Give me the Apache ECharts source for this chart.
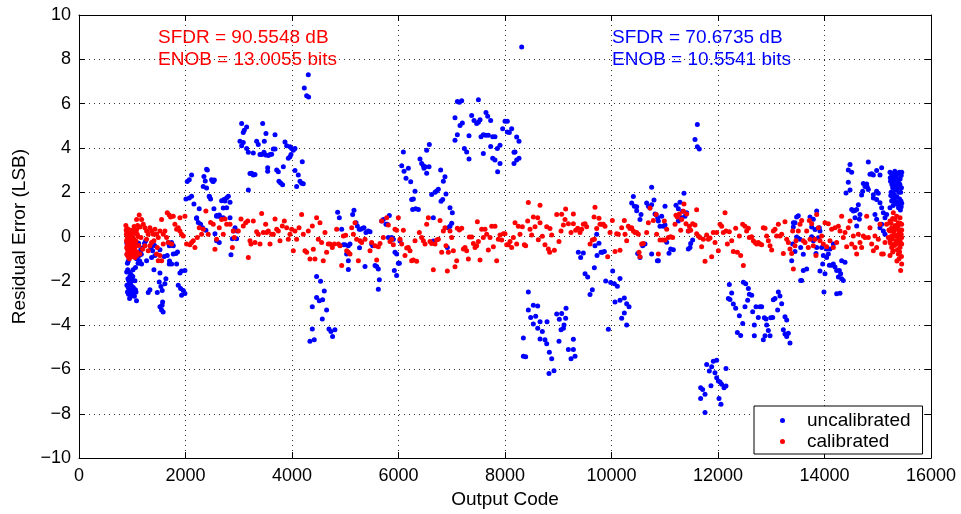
<!DOCTYPE html>
<html>
<head>
<meta charset="utf-8">
<script src="https://cdn.jsdelivr.net/npm/echarts@6/dist/echarts.min.js"></script>
<style>html,body{margin:0;padding:0;background:#fff;}#c{width:961px;height:514px;}</style>
</head>
<body>
<div id="c"></div>
<script>
var xTicks = [0, 2000, 4000, 6000, 8000, 10000, 12000, 14000, 16000];
var yTicks = [-10, -8, -6, -4, -2, 0, 2, 4, 6, 8, 10];
var seriesNames = ['uncalibrated', 'calibrated'];
var annotRed = ['SFDR = 90.5548 dB', 'ENOB = 13.0055 bits'];
var annotBlue = ['SFDR = 70.6735 dB', 'ENOB = 10.5541 bits'];

var uncalibrated = [
[900,-0.3],[905,-0.8],[910,-1.2],[915,-1.5],[920,-1.9],[925,-2.3],[930,-2.6],[935,-2.0],[940,-1.6],[945,-2.4],[950,-2.8],[955,-1.8],[960,-2.1],[965,-2.5],[970,-2.7],[975,-1.7],[980,-2.2],[985,-2.0],[990,-1.9],[995,-2.6],[1000,-2.4],[1010,-1.8],[1020,-2.3],[1030,-2.6],[1040,-2.7],[1050,-2.0],[1060,-2.4],[1070,-2.5],[1080,-2.9],[1000,-0.5],[960,-0.9],[920,-0.6],[1040,-0.7],[1080,-1.0],[1110,-1.2],[1140,-1.1],[1170,-0.8],[1200,-0.5],[1230,-0.3],[895,-1.6],[900,-2.2],[910,-2.5],[925,-1.1],[945,-0.4],[1015,-1.5],[1060,-1.4],
[1300,-2.53],[1332,-2.4],[1470,-2.53],[1507,-2.05],[1538,-2.25],[1563,-2.43],[1520,-3.17],[1551,-3.32],[1570,-2.95],[1613,-2.13],[1632,-1.9],[1520,-1.64],[1407,-1.5],[1363,-0.94],[1426,-0.86],[1382,-0.64],[1657,-0.86],[1695,-1.24],[1739,-1.24],[1770,-0.79],[1820,-0.76],[1833,-1.24],[1895,-1.64],[1926,-1.56],[1864,-2.2],[1908,-2.35],[1958,-2.43],[1989,-2.57],[1926,-2.65],[1989,-1.53],[1695,-0.42],[1739,-0.27],[1770,-0.42],[1676,-0.27],[1269,-1.09],[1175,-1.24],[1131,-0.86],[1094,-1.01],[1120,-0.3],[1160,-0.6],[1250,-0.2],[1350,-0.5],[1420,-0.4],[1520,-0.6],[1600,-0.9],[1700,-1.1],[1760,-0.4],[1850,-0.7],[1580,-3.4],[1560,-3.1],
[2008,1.7],[2071,1.74],[2114,1.82],[2033,2.49],[2071,2.56],[2114,2.78],[2346,2.71],[2371,2.51],[2333,2.26],[2396,2.19],[2396,3.04],[2446,1.82],[2471,1.7],[2521,2.49],[2490,2.56],[2534,1.26],[2584,0.92],[2634,0.97],[2678,1.62],[2722,1.67],[2709,1.29],[2258,1.25],[2158,1.47],[2208,0.82],[2240,0.63],[2283,0.55],[2321,0.4],[2383,0.28],[2553,0.13],[2584,-0.19],[2634,-0.27],[2410,3.0],[2448,1.8],[2510,2.5],[2542,2.55],[2742,1.6],[2773,1.75],[2805,1.82],[2836,1.55],[2773,1.3],[2836,0.85],[2898,0.25],[2973,0.25],[2930,0.4],[2880,-0.1],[2960,-0.1],[2854,-0.82],[2210,0.85],[2585,0.95],[2640,0.9],[2710,0.85],
[4306,7.3],[4231,6.7],[4275,6.35],[4312,6.3],[3054,5.1],[3449,5.1],[3148,4.95],[3104,4.8],[3085,4.7],[3511,4.65],[3681,4.6],[3023,4.3],[3054,4.1],[3085,4.25],[3148,3.97],[3180,3.8],[3273,3.77],[3336,4.3],[3367,4.15],[3480,4.3],[3399,3.7],[3430,3.7],[3474,3.8],[3505,3.68],[3555,3.66],[3587,3.7],[3618,3.72],[3649,3.95],[3681,3.95],[3868,4.27],[3900,4.1],[3962,4.05],[3993,3.97],[4025,3.9],[4056,3.97],[3931,3.53],[3962,3.6],[3981,3.7],[3837,3.15],[4193,3.38],[3543,3.1],[3543,2.95],[3211,2.85],[3242,2.86],[3273,2.78],[3305,2.8],[3712,3.0],[3743,2.93],[4056,2.98],[4118,2.78],[3755,2.5],[3787,2.42],[3824,2.34],[4150,2.5],[4181,2.41],[4212,2.38],[4087,2.26],[3180,2.1],
[4462,-1.8],[4537,-2.02],[4606,-2.46],[4462,-2.75],[4512,-2.9],[4575,-2.85],[4381,-3.17],[4650,-3.32],[4569,-3.72],[4381,-4.17],[4694,-4.17],[4731,-4.29],[4806,-4.21],[4762,-4.51],[4337,-4.73],[4418,-4.66],
[4857,1.1],[4889,0.85],[4933,0.33],[4964,-0.37],[4995,-0.37],[5026,-0.79],[5058,-0.42],[5089,-0.34],[5058,-1.09],[5058,-1.49],[5139,0.99],[5164,1.19],[5202,0.62],[5227,0.48],[5264,0.33],[5289,0.33],[5327,0.37],[5352,0.4],[5389,0.18],[5433,0.25],[5465,0.22],[5496,-0.34],[5515,-0.42],[5371,-1.35],[5559,-1.31],[5590,-1.35],[5621,-1.46],[5640,-1.95],[5621,-2.38],[5684,0.7],[5715,0.77],[5765,0.55],[5790,0.55],[5828,0.95],[5809,-0.04],[5872,-0.04],[5903,-0.12],[5934,-0.71],[5965,-0.79],[5922,-1.53],[5965,-1.76],[5997,-1.21],[5268,-0.5],
[6016,-1.2],[6028,-0.2],[6091,3.82],[6060,3.2],[6104,2.95],[6141,2.63],[6185,3.08],[6229,2.47],[6247,1.67],[6279,1.7],[6310,2.05],[6266,1.22],[6322,1.25],[6373,1.22],[6404,3.5],[6435,3.3],[6467,3.2],[6479,3.08],[6498,3.15],[6529,2.86],[6573,3.15],[6529,3.9],[6579,4.15],[6623,1.9],[6654,0.85],[6686,2.0],[6717,2.06],[6748,2.13],[6792,3.0],[6842,2.5],[6873,2.7],[6799,1.59],[6830,1.67],[6892,1.92],[6967,1.3],[7011,1.07],[6967,0.47],[6999,0.6],[6936,0.4],[6917,-0.49],[6654,-0.2],
[7105,6.1],[7143,6.06],[7187,6.13],[7500,6.17],[7061,5.36],[7105,4.6],[7061,4.35],[7155,5.01],[7199,5.13],[7324,4.55],[7374,5.46],[7418,5.24],[7468,5.1],[7500,5.16],[7531,5.27],[7643,5.6],[7675,5.43],[7731,5.24],[7237,3.97],[7280,3.82],[7324,3.5],[7550,4.5],[7593,4.6],[7637,4.57],[7687,4.57],[7593,3.75],[7731,4.07],[7769,4.5],[7812,4.5],[7769,3.53],[7812,3.45],[7856,3.97],[7906,4.12],[7862,2.93],[7906,3.3],[7956,4.87],[8000,5.2],[8044,5.2],[8044,4.72],[8081,4.7],[8125,4.87],[8169,3.8],[8169,3.3],[8219,4.49],[8263,4.3],[8188,3.82],[8219,3.45],[8263,3.53],[8313,8.56],
[8345,-4.58],[8345,-5.4],[8388,-5.43],[8438,-2.5],[8438,-3.32],[8482,-3.65],[8532,-3.1],[8614,-3.14],[8532,-3.95],[8576,-3.6],[8614,-4.14],[8658,-3.84],[8658,-4.62],[8701,-4.29],[8751,-4.66],[8783,-4.84],[8789,-3.84],[8833,-5.22],[8877,-5.52],[8826,-6.18],[8920,-6.06],[8971,-3.5],[9064,-3.47],[9014,-4.73],[9020,-3.73],[9052,-4.21],[9096,-4.14],[9108,-3.99],[9139,-3.69],[9146,-3.24],[9190,-5.1],[9240,-5.52],[9284,-5.1],[9315,-5.4],[9284,-4.64],
[9377,-0.71],[9421,-0.94],[9471,-0.74],[9503,-1.68],[9553,-1.83],[9597,-2.62],[9640,-2.4],[9678,-1.41],[9690,-0.42],[9722,0.1],[9765,-0.3],[9728,-0.86],[9803,-0.71],[9828,-0.71],[9866,-0.68],[9891,-2.01],[9941,-4.18],[9985,-2.07],[10022,-1.55],[10053,-2.13],[10110,-2.24],[10160,-1.89],[10066,-2.95],[10160,-2.88],[10241,-2.77],[10285,-3.03],[10329,-3.17],[10191,-3.69],[10241,-3.45],[10285,-3.99],
[10410,1.81],[10379,1.51],[10429,1.37],[10473,1.34],[10473,1.17],[10660,1.51],[10692,1.37],[10754,2.22],[10723,1.29],[10754,1.44],[10817,1.02],[10867,0.85],[10535,0.77],[10554,0.99],[10492,-0.76],[10535,-0.94],[10585,-0.41],[10629,-0.34],[10880,-1.09],
[11612,5.06],[11568,4.38],[11612,4.05],[11649,3.95],[10798,1.65],[10836,0.99],[10942,0.92],[11005,1.37],[10880,0.7],[10911,0.47],[10973,0.47],[11005,0.52],[11036,-0.26],[11080,-0.75],[11111,-0.56],[11161,-0.6],[11211,1.41],[11255,1.26],[11286,1.55],[11336,1.14],[11361,1.96],[11380,0.92],[11412,1.07],[11443,-0.56],[11474,-0.49],[11487,-0.31],[11524,-0.16],[10754,-0.79],[10861,-1.09],[11255,0.7],[11318,0.85],[11443,0.25],
[12213,-2.16],[12194,-2.8],[12225,-2.84],[12257,-2.55],[12288,-3.05],[12332,-3.24],[12401,-3.58],[12363,-4.33],[12426,-4.47],[12464,-3.92],[12476,-2.06],[12520,-2.13],[12570,-2.35],[12557,-2.88],[12507,-3.17],[12589,-2.61],[12633,-2.65],[12651,-3.39],[12682,-3.99],[12682,-4.48],[12714,-3.17],[12757,-3.65],[12789,-3.17],[12820,-3.17],[12870,-3.66],[12902,-3.72],[12883,-4.48],[12851,-4.66],[12914,-3.99],[12945,-4.24],[12977,-4.48],[12990,-3.66],[13027,-3.65],[13039,-2.85],[13071,-2.8],[13133,-2.5],[13164,-2.68],[13120,-3.32],[13196,-3.03],[13227,-4.21],[13258,-3.62],[13290,-3.77],[13258,-4.4],[13290,-4.51],[13321,-4.36],[13352,-4.81],[13415,0.62],[13403,-0.34],[13384,-1.09],
[11787,-5.77],[11837,-6.07],[11881,-5.88],[11912,-5.63],[11975,-5.58],[11943,-6.15],[11975,-6.37],[12006,-6.52],[12038,-6.57],[12069,-6.67],[12113,-6.82],[12150,-6.75],[12150,-5.96],[11868,-6.73],[11674,-6.82],[11712,-6.9],[11756,-7.12],[11674,-7.31],[12019,-7.31],[12056,-7.57],[11756,-7.94],
[13446,-0.68],[13414,0.43],[13477,0.88],[13446,0.62],[13508,0.94],[13477,-0.02],[13540,-0.12],[13552,-0.49],[13602,-0.8],[13602,-1.53],[13665,-1.47],[13552,-1.98],[13571,-1.98],[13728,0.88],[13759,0.43],[13790,0.78],[13759,-0.01],[13790,-0.19],[13822,0.32],[13853,1.15],[13853,-0.49],[13884,-0.05],[13903,0.40],[13915,0.25],[13840,-0.76],[13947,-0.49],[13978,-0.86],[13966,-1.24],[13915,-1.56],[14009,-1.68],[14040,-0.94],[14072,-0.79],[14091,-1.3],[14135,-1.3],[14166,-1.24],[14197,-1.38],[14228,-1.53],[14260,-1.83],[14279,-1.53],[14303,-1.68],[14322,-1.9],[14353,-1.98],[14291,-2.56],[14228,-2.58],[13990,-2.5],[14040,-0.56],[14103,-0.56],[14166,-0.34],[14322,-1.09],[14385,-1.16],
[14404,1.97],[14447,2.45],[14479,2.1],[14479,3.25],[14447,3.0],[14510,2.9],[14510,1.22],[14541,1.15],[14573,1.18],[14604,1.22],[14635,1.44],[14666,1.0],[14654,0.78],[14573,0.85],[14604,0.48],[14697,1.88],[14716,2.04],[14729,2.4],[14760,2.26],[14779,2.3],[14792,2.37],[14804,2.22],[14823,2.12],[14823,3.36],[14854,2.81],[14885,2.84],[14917,2.78],[14979,2.98],[15042,2.78],[15073,3.1],[14917,1.89],[14979,2.04],[15010,1.96],[14917,1.74],[14979,1.67],[15042,1.52],[15073,1.3],[15105,1.07],[15167,1.0],[15136,0.85],[14948,1.0],[14979,0.78],[15042,0.40],[15073,0.55],[15105,0.25],[15136,0.1],
[15230,2.9],[15240,2.5],[15250,2.0],[15260,1.6],[15270,2.8],[15280,2.2],[15290,1.4],[15300,2.6],[15310,1.9],[15320,2.95],[15330,1.5],[15340,2.3],[15350,2.7],[15360,1.8],[15370,2.1],[15380,2.85],[15390,1.3],[15400,2.4],[15410,1.7],[15420,2.6],[15430,2.0],[15440,2.75],[15450,1.5],[15445,2.2],[15425,1.2],[15405,2.9],[15385,2.45],[15365,1.55],[15345,2.55],[15325,2.1],[15305,2.75],[15285,1.75],[15265,2.35],[15245,1.85],[15235,2.65],[15255,2.85],[15275,1.95],[15295,2.45],[15315,1.65],[15335,2.8],[15355,2.25],[15375,1.45],[15395,2.0],[15415,2.35],[15435,1.6],[15450,2.9],[15230,1.3],[15440,1.35]
];

var calibrated = [
[880,0.5],[885,0.3],[890,0.1],[892,-0.2],[895,-0.5],[898,-0.8],[900,0.2],[903,-0.1],[906,-0.4],[910,-0.6],[912,0.35],[915,0.0],[918,-0.3],[920,-0.9],[923,0.15],[926,-0.2],[930,-0.5],[933,-0.7],[936,0.05],[940,-0.25],[943,-0.4],[946,-1.0],[950,0.3],[953,-0.1],[956,-0.6],[960,-0.35],[963,0.1],[966,-0.8],[970,-0.15],[973,-0.5],[976,0.2],[980,-0.3],[983,-0.65],[986,0.0],[990,-0.45],[995,-0.9],[1000,0.1],[1005,-0.2],[1010,-0.55],[1015,0.3],[1020,-0.75],[1025,-0.1],[1030,-0.4],[1035,0.45],[1040,-0.3],[1045,-0.6],[1050,0.15],[1060,-0.45],[1070,-0.2],[1080,0.3],[1090,-0.7],[1100,0.5],[1110,0.0],[1120,-0.4],
[1081,0.77],[1131,0.97],[1175,0.77],[1144,0.43],[1207,0.55],[1238,0.4],[1269,0.25],[1300,0.1],[1332,0.4],[1363,0.25],[1394,0.1],[1426,0.33],[1457,0.1],[1488,-0.04],[1520,0.25],[1551,0.77],[1582,0.1],[1613,0.25],[1657,1.07],[1695,0.97],[1720,0.88],[1770,0.92],[1801,0.55],[1833,0.33],[1864,0.4],[1895,0.25],[1926,0.1],[1958,0.03],[1895,0.85],[1989,0.92],[2020,-0.34],[2083,-0.37],[2114,-0.27],[2146,-0.19],[2177,-0.49],[2221,-0.04],[2258,0.4],[2302,0.1],[2333,0.33],[2383,1.15],[2427,0.1],[2471,0.63],[2521,0.55],[2553,-0.57],[2584,-0.12],[2634,0.4],[2678,0.77],[2709,0.1],[1300,-0.64],[1332,-0.42],[1363,-0.27],[1407,-0.19],[1470,-0.49],[1520,-0.86],[1551,-1.09],[1457,-0.79],[1194,-0.57],[1144,-0.79],[1081,-0.86],[1050,-0.94],[1238,-0.42],[1582,-0.34],[1676,-0.27],[1739,-0.34],[1645,-0.04],[1488,-1.09],[1269,-0.12],[1163,-0.04],[1094,0.1],
[2742,0.79],[2773,0.55],[2836,0.55],[2898,0.25],[2917,-0.04],[2880,-0.49],[2992,0.25],[3042,0.79],[3085,0.48],[3130,0.62],[3168,0.7],[3180,-0.94],[3211,-0.19],[3230,-0.34],[3273,0.7],[3305,-0.27],[3336,0.22],[3367,0.1],[3399,-0.34],[3430,1.04],[3461,0.18],[3505,0.55],[3524,0.18],[3555,0.25],[3587,-0.34],[3618,0.1],[3649,0.1],[3681,0.79],[3712,0.33],[3743,0.25],[3774,-0.19],[3818,0.48],[3856,0.7],[3900,0.4],[3931,-0.12],[3962,0.1],[3993,0.33],[4025,-0.64],[4056,0.25],[4087,-0.12],[4132,0.4],[4181,1.0],[4212,0.1],[4243,-0.64],[4275,-0.71],[4306,0.25],[4337,-1.01],[4382,0.48],[4400,-0.57],[4431,-1.01],[4462,0.85],[4494,-0.12],[4525,0.62],[4556,-0.27],[4587,-1.09],[4619,0.18],[4650,-0.71],[4681,-0.34],[4713,-0.34],[4757,-0.49],[4795,-0.34],[4839,0.33],[4871,-0.34],[4902,-0.42],[4933,-1.31],[4964,0.03],[5008,0.06],[5027,-0.64],[5058,-0.71],[5089,-0.79],[5121,0.4],[5152,0.1],[5183,0.62],[5214,-0.12],[5246,-1.09],[5277,-0.19],[5308,-0.27],[5371,-0.12],
[5465,-0.64],[5496,-0.27],[5559,-0.42],[5621,-0.46],[5590,-1.06],[5653,-0.31],[5684,0.7],[5715,-0.04],[5778,0.85],[5809,0.52],[5840,-0.22],[5872,-0.12],[5903,-0.37],[5934,0.33],[5966,0.28],[5997,0.85],[6028,-0.12],[6060,-0.34],[6091,0.28],[6122,-0.86],[6154,-0.52],[6185,-0.49],[6216,-0.64],[6247,-1.09],[6279,-1.06],[6310,-0.19],[6341,-1.12],[6391,0.18],[6435,-0.04],[6467,-0.19],[6498,-0.34],[6529,0.55],[6561,0.85],[6592,-0.22],[6623,-0.31],[6654,-1.5],[6686,-0.34],[6717,-0.16],[6748,-0.12],[6780,0.73],[6811,-0.71],[6842,0.25],[6873,0.4],[6892,-0.42],[6917,-1.56],[6936,-0.71],[6967,0.25],[6999,-0.04],[7030,-0.64],[7061,-1.36],[7093,-1.09],[7105,0.37],[7143,0.3],[7187,0.37],[7218,-0.56],[7249,-0.49],[7280,-0.64],[7312,-1.01],[7331,-0.02],[7374,-0.02],[7406,-0.31],[7437,-0.49],[7468,-0.42],[7500,-0.22],[7531,-1.06],[7562,0.33],[7593,-0.04],[7625,0.33],[7656,0.1],[7687,-0.61],[7719,-0.04],[7750,0.47],[7781,-0.46],[7812,0.47],[7844,-1.09],[7875,-0.12],[7906,0.07],[7938,-0.16],[7969,0.13],[8000,0.13],[8032,-0.37],[8063,-0.37],[8094,-0.22],[8125,-0.49],[8157,-0.04],[7481,0.67],
[8188,0.62],[8219,-0.34],[8251,0.47],[8282,0.1],[8326,0.44],[8363,-0.37],[8388,-0.42],[8426,0.7],[8438,1.54],[8470,0.33],[8501,0.07],[8532,0.88],[8564,0.44],[8614,0.85],[8626,-0.15],[8658,0.62],[8658,1.41],[8701,0.01],[8751,-0.37],[8783,0.44],[8814,-0.56],[8839,-0.71],[8845,0.36],[8877,0.07],[8927,-0.62],[8971,0.99],[9014,-0.22],[9064,1.01],[9052,0.25],[9096,0.52],[9127,0.77],[9139,1.24],[9190,0.58],[9240,0.18],[9284,1.02],[9284,0.58],[9327,0.28],[9365,0.37],[9409,0.18],[9440,0.33],[9471,0.55],[9503,0.58],[9534,0.44],[9597,-0.34],[9640,-0.16],[9678,-0.12],[9672,0.88],[9690,1.32],[9722,0.36],[9765,0.83],[9784,0.55],[9816,0.55],[9847,0.55],[9878,0.47],[9928,-0.91],[9972,0.18],[10016,0.73],[10066,-0.67],[10097,0.13],[10128,0.1],[10160,-0.62],[10191,0.4],[10241,0.73],[10254,0.1],[10285,-0.19],[10316,0.47],[10347,0.36],[10379,0.4],[10410,0.25],[10441,0.18],[10473,0.18],[10504,0.1],[10517,-0.71],[10535,-0.91],[10566,-0.34],[10598,-0.31],[10660,0.18],[10692,0.62],
[10723,1.29],[10786,0.73],[10836,0.99],[10848,0.1],[10880,-0.79],[10911,-0.16],[10961,-0.16],[10992,0.7],[11005,-0.16],[11036,0.33],[11067,-0.04],[11111,-0.01],[11149,-0.04],[11193,0.55],[11211,0.96],[11236,0.88],[11274,1.02],[11299,0.28],[11318,0.77],[11349,1.14],[11361,1.47],[11399,0.58],[11412,1.02],[11443,0.25],[11462,0.47],[11487,0.28],[11524,0.58],[11568,0.52],[11599,1.21],[11599,0.13],[11631,0.03],[11662,-0.04],[11693,-0.46],[11725,-0.12],[11756,-1.12],[11787,0.07],[11819,-0.12],[11850,-0.07],[11881,-0.91],[11912,0.18],[11944,-0.27],[11975,0.18],[12006,-0.64],[12038,0.55],[12069,0.47],[12100,0.18],[12132,1.07],[12150,0.25],[12175,-0.34],[12213,0.22],[12257,-0.19],[12288,-0.67],[12332,0.37],[12363,-0.71],[12401,0.03],[12426,-0.86],[12476,-1.31],[12463,0.55],[12507,0.47],[12538,0.25],[12570,0.37],[12588,-0.04],[12632,-0.01],[12664,-0.19],[12695,-0.27],[12726,-0.34],[12758,-0.27],[12789,-0.34],[12820,-0.37],[12851,0.4],[12883,0.37],[12914,0.03],[12945,-0.19],[12977,-0.42],[13008,-0.61],[13039,0.25],[13071,0.33],[13102,0.03],[13133,0.55],[13164,0.03],[13196,0.1],[13227,-0.76],[13258,0.67],[13290,-0.12],[13321,-0.27],[13352,-0.56],[13384,-0.76],[13415,-1.46],[13402,0.25],
[13446,-0.42],[13465,-0.19],[13508,0.25],[13540,0.55],[13571,0.73],[13602,-0.19],[13634,-0.27],[13665,0.25],[13696,-0.49],[13715,0.73],[13728,-0.12],[13759,0.58],[13790,-0.42],[13821,-0.12],[13840,-0.86],[13853,1.0],[13884,0.4],[13915,-0.19],[13947,0.03],[13978,-0.34],[14009,0.62],[14040,-0.46],[14072,0.58],[14103,-0.19],[14134,0.33],[14166,-0.49],[14197,0.4],[14228,-0.27],[14260,0.47],[14291,0.25],[14322,0.92],[14353,-0.04],[14385,0.18],[14416,-0.46],[14447,0.4],[14479,0.7],[14510,-0.34],[14541,0.03],[14573,-0.49],[14604,-0.79],[14635,0.1],[14666,-0.27],[14698,-0.49],[14729,0.03],[14760,-0.04],[14792,0.92],[14823,-0.04],[14854,0.4],[14886,-0.34],[14917,-0.64],[14948,0.03],[14979,-0.49],[15011,-0.12],[15042,0.55],[15073,-0.79],[15105,-0.79],[15136,-0.27],[15167,0.55],[15199,-0.04],[15230,0.25],[15261,-0.49],[15280,0.81],[15292,1.07],[15324,0.4],[15355,0.92],[15386,0.62],[15418,0.85],[15449,0.55],[15449,-0.04],[15418,-0.49],[15386,-0.79],[15355,-0.34],[15324,0.03],[15292,-0.64],[15261,0.4],[15230,-0.19],[15230,-0.86],[15449,-1.24],[15430,-1.53],[15386,0.1],[15324,0.77],[15355,0.33],[15418,0.18],[15261,0.03],[15230,0.7],[15449,-0.34],[15418,-0.19],[15324,-0.34],
[15210,0.3],[15240,-0.3],[15250,0.6],[15270,-0.1],[15300,0.2],[15310,-0.4],[15330,0.5],[15340,-0.2],[15360,0.0],[15370,-0.6],[15380,0.45],[15395,-0.15],[15400,0.3],[15410,-0.7],[15420,0.6],[15430,-0.3],[15440,0.1],[15445,-0.9],[15400,-1.0],[15360,-1.1],[15280,-0.7],[15450,0.3]
];

var FONT = "'Liberation Sans', Arial, Helvetica, sans-serif";
var chart = echarts.init(document.getElementById('c'), null, {renderer: 'canvas'});
function minusFmt(v) { return String(v).replace('-', '\u2212'); }
var gridLine = {show: true, lineStyle: {color: '#333', width: 1, type: [1, 4]}};
var frameLine = {show: true, onZero: false, lineStyle: {color: '#000', width: 1}};
var tickIn = {show: true, inside: true, length: 6, lineStyle: {color: '#000', width: 1}};

function textEl(t, x, y, color) {
  return {type: 'text', x: x, y: y, silent: true,
    style: {text: t, fill: color, font: '19px ' + FONT, textAlign: 'left', textVerticalAlign: 'middle', verticalAlign: 'middle'}};
}

chart.setOption({
  animation: false,
  backgroundColor: '#fff',
  textStyle: {fontFamily: FONT},
  grid: {left: 79, top: 15, width: 852, height: 448, containLabel: false},
  xAxis: [
    {type: 'value', min: xTicks[0], max: xTicks[xTicks.length - 1], interval: 2000, position: 'bottom',
     axisLine: frameLine, axisTick: tickIn, splitLine: gridLine,
     axisLabel: {color: '#000', fontSize: 18, margin: 9, fontFamily: FONT, formatter: minusFmt},
     name: 'Output Code', nameLocation: 'middle', nameGap: 29,
     nameTextStyle: {color: '#000', fontSize: 19, fontFamily: FONT}},
    {type: 'value', min: xTicks[0], max: xTicks[xTicks.length - 1], interval: 2000, position: 'top',
     axisLine: frameLine, axisTick: tickIn, splitLine: {show: false}, axisLabel: {show: false}}
  ],
  yAxis: [
    {type: 'value', min: yTicks[0], max: yTicks[yTicks.length - 1], interval: 2, position: 'left',
     axisLine: frameLine, axisTick: tickIn, splitLine: gridLine,
     axisLabel: {color: '#000', fontSize: 18, margin: 8, fontFamily: FONT, formatter: minusFmt},
     name: 'Residual Error (LSB)', nameLocation: 'middle', nameGap: 46,
     nameTextStyle: {color: '#000', fontSize: 19, fontFamily: FONT}},
    {type: 'value', min: yTicks[0], max: yTicks[yTicks.length - 1], interval: 2, position: 'right',
     axisLine: frameLine, axisTick: tickIn, splitLine: {show: false}, axisLabel: {show: false}}
  ],
  legend: {
    data: seriesNames, orient: 'vertical', left: 754, top: 406,
    icon: 'circle', itemWidth: 39, itemHeight: 5, itemGap: 2,
    padding: [5, 12, 3, 26],
    backgroundColor: '#fff', borderColor: '#000', borderWidth: 1, borderRadius: 0,
    textStyle: {color: '#000', fontSize: 19, fontFamily: FONT},
    selectedMode: false
  },
  series: [
    {name: seriesNames[0], type: 'scatter', data: uncalibrated, symbol: 'circle', symbolSize: 5,
     itemStyle: {color: '#0000ff', opacity: 1}, silent: true, z: 2},
    {name: seriesNames[1], type: 'scatter', data: calibrated, symbol: 'circle', symbolSize: 5,
     itemStyle: {color: '#ff0000', opacity: 1}, silent: true, z: 3}
  ],
  graphic: [
    textEl(annotRed[0], 158, 38, '#ff0000'),
    textEl(annotRed[1], 158, 60, '#ff0000'),
    textEl(annotBlue[0], 612, 38, '#0000ff'),
    textEl(annotBlue[1], 612, 60, '#0000ff')
  ]
});
</script>
</body>
</html>
